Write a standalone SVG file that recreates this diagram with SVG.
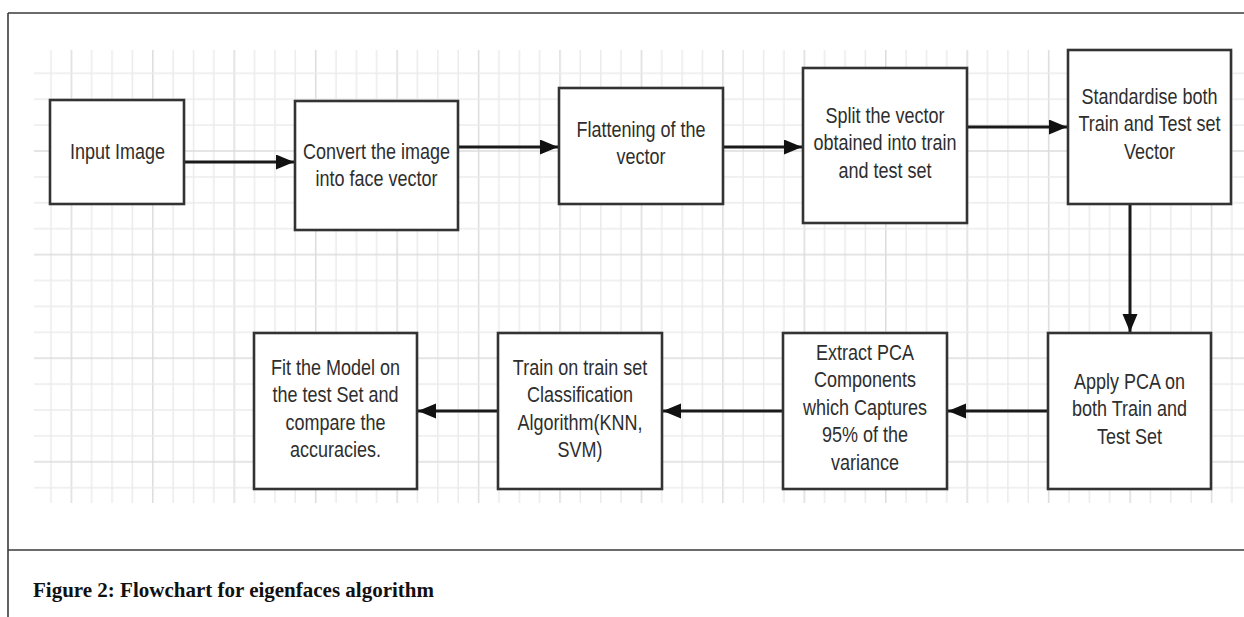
<svg xmlns="http://www.w3.org/2000/svg" width="1244" height="617" viewBox="0 0 1244 617">
  <style>
    .box { fill: #ffffff; stroke: #333333; stroke-width: 2.6; }
    .lbl { font-family: "Liberation Sans", Arial, sans-serif; font-size: 18px; fill: #2e2e2e; text-anchor: middle; }
    .conn { stroke: #1a1a1a; stroke-width: 3; fill: none; marker-end: url(#arrow); }
    .frame { stroke: #3a3a3a; stroke-width: 1.6; fill: none; }
    .cap { font-family: "Liberation Serif", "Times New Roman", serif; font-weight: bold; font-size: 21px; fill: #111111; }
    .g1 { stroke: #ebebeb; stroke-width: 1.5; }
    .g2 { stroke: #dcdcdc; stroke-width: 1.5; }
  </style>
  <defs>
    <marker id="arrow" markerUnits="userSpaceOnUse" markerWidth="18" markerHeight="16" refX="18" refY="7.5" orient="auto">
      <path d="M0,0 L18,7.5 L0,15 Z" fill="#111111"/>
    </marker>
    <pattern id="grid" patternUnits="userSpaceOnUse" x="40.82" y="60.35" width="81.44" height="103.6">
      <line class="g1" x1="10.18" y1="0" x2="10.18" y2="103.6"/>
      <line class="g2" x1="30.54" y1="0" x2="30.54" y2="103.6"/>
      <line class="g1" x1="50.9" y1="0" x2="50.9" y2="103.6"/>
      <line class="g1" x1="71.26" y1="0" x2="71.26" y2="103.6"/>
      <line class="g1" x1="0" y1="12.95" x2="81.44" y2="12.95"/>
      <line class="g1" x1="0" y1="38.85" x2="81.44" y2="38.85"/>
      <line class="g1" x1="0" y1="64.75" x2="81.44" y2="64.75"/>
      <line class="g2" x1="0" y1="90.65" x2="81.44" y2="90.65"/>
    </pattern>
  </defs>

  <rect x="0" y="0" width="1244" height="617" fill="#ffffff"/>
  <rect x="34" y="50" width="1210" height="453" fill="url(#grid)"/>

  <g id="frame">
    <line class="frame" x1="8" y1="13" x2="1244" y2="13"/>
    <line class="frame" x1="8" y1="13" x2="8" y2="617"/>
    <line class="frame" x1="8" y1="550" x2="1244" y2="550"/>
  </g>

  <g id="connectors">
    <line class="conn" x1="184" y1="162" x2="294" y2="162"/>
    <line class="conn" x1="458" y1="147" x2="558" y2="147"/>
    <line class="conn" x1="723" y1="147" x2="802" y2="147"/>
    <line class="conn" x1="967" y1="127" x2="1067" y2="127"/>
    <line class="conn" x1="1130" y1="204" x2="1130" y2="332"/>
    <line class="conn" x1="1048" y1="411" x2="948" y2="411"/>
    <line class="conn" x1="783" y1="411" x2="663" y2="411"/>
    <line class="conn" x1="498" y1="411" x2="418" y2="411"/>
  </g>

  <g id="n1">
    <rect class="box" x="50" y="100" width="134" height="104"/>
    <text class="lbl" transform="matrix(1 0 0 1.2 117.5 159)" x="0" y="0">Input Image</text>
  </g>
  <g id="n2">
    <rect class="box" x="295" y="101" width="163" height="129"/>
    <text class="lbl" transform="matrix(1 0 0 1.2 376.5 159)"><tspan x="0" y="0">Convert the image</tspan><tspan x="0" dy="22.9">into face vector</tspan></text>
  </g>
  <g id="n3">
    <rect class="box" x="559" y="88" width="164" height="116"/>
    <text class="lbl" transform="matrix(1 0 0 1.2 641 137)"><tspan x="0" y="0">Flattening of the</tspan><tspan x="0" dy="22.9">vector</tspan></text>
  </g>
  <g id="n4">
    <rect class="box" x="803" y="68" width="164" height="155"/>
    <text class="lbl" transform="matrix(1 0 0 1.2 885 123)"><tspan x="0" y="0">Split the vector</tspan><tspan x="0" dy="22.9">obtained into train</tspan><tspan x="0" dy="22.9">and test set</tspan></text>
  </g>
  <g id="n5">
    <rect class="box" x="1068" y="50" width="163" height="154"/>
    <text class="lbl" transform="matrix(1 0 0 1.2 1149.5 104)"><tspan x="0" y="0">Standardise both</tspan><tspan x="0" dy="22.9">Train and Test set</tspan><tspan x="0" dy="22.9">Vector</tspan></text>
  </g>
  <g id="n6">
    <rect class="box" x="1048" y="333" width="163" height="156"/>
    <text class="lbl" transform="matrix(1 0 0 1.2 1129.5 389)"><tspan x="0" y="0">Apply PCA on</tspan><tspan x="0" dy="22.9">both Train and</tspan><tspan x="0" dy="22.9">Test Set</tspan></text>
  </g>
  <g id="n7">
    <rect class="box" x="783" y="333" width="164" height="156"/>
    <text class="lbl" transform="matrix(1 0 0 1.2 865 360)"><tspan x="0" y="0">Extract PCA</tspan><tspan x="0" dy="22.9">Components</tspan><tspan x="0" dy="22.9">which Captures</tspan><tspan x="0" dy="22.9">95% of the</tspan><tspan x="0" dy="22.9">variance</tspan></text>
  </g>
  <g id="n8">
    <rect class="box" x="498" y="333" width="164" height="156"/>
    <text class="lbl" transform="matrix(1 0 0 1.2 580 375)"><tspan x="0" y="0">Train on train set</tspan><tspan x="0" dy="22.9">Classification</tspan><tspan x="0" dy="22.9">Algorithm(KNN,</tspan><tspan x="0" dy="22.9">SVM)</tspan></text>
  </g>
  <g id="n9">
    <rect class="box" x="254" y="333" width="163" height="156"/>
    <text class="lbl" transform="matrix(1 0 0 1.2 335.5 375)"><tspan x="0" y="0">Fit the Model on</tspan><tspan x="0" dy="22.9">the test Set and</tspan><tspan x="0" dy="22.9">compare the</tspan><tspan x="0" dy="22.9">accuracies.</tspan></text>
  </g>

  <g id="caption">
    <text class="cap" x="33" y="597" textLength="401" lengthAdjust="spacingAndGlyphs">Figure 2: Flowchart for eigenfaces algorithm</text>
  </g>
</svg>
